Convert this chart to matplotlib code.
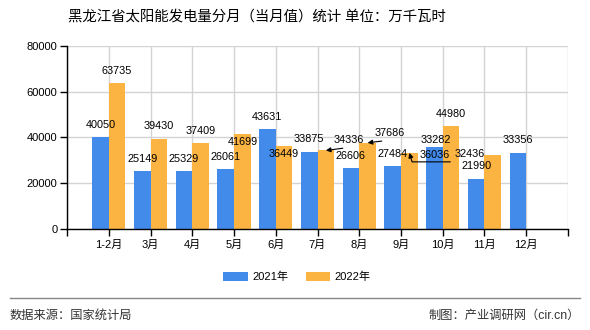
import numpy as np
import matplotlib
matplotlib.use('Agg')
import matplotlib.pyplot as plt

plt.rcParams['font.family'] = ['Liberation Sans', 'Noto Sans CJK SC']

# 分月数据（万千瓦时）
meses = ['1-2月', '3月', '4月', '5月', '6月', '7月', '8月', '9月', '10月', '11月', '12月']
v2021 = [40050, 25149, 25329, 26061, 43631, 33875, 26606, 27484, 36036, 21990, 33356]
v2022 = [63735, 39430, 37409, 41699, 36449, 34336, 37686, 33282, 44980, 32436, np.nan]

cor_2021 = '#428BEB'
cor_2022 = '#FBB341'

fig = plt.figure(figsize=(5.9, 3.3), dpi=100)
ax = fig.add_axes([0.1136, 0.3061, 0.8491, 0.5545])

x = np.arange(1, len(meses) + 1)
larg = 0.4
barras1 = ax.bar(x - larg / 2, v2021, larg, color=cor_2021, label='2021年', zorder=2)
barras2 = ax.bar(x + larg / 2, v2022, larg, color=cor_2022, label='2022年', zorder=2)

ax.set_xlim(0, len(meses) + 1)
ax.set_ylim(0, 80000)
ax.set_xticks(np.arange(0, len(meses) + 2))
ax.set_xticklabels([''] + meses + [''], fontsize=8)
ax.set_yticks(np.arange(0, 80001, 20000))
ax.tick_params(axis='y', labelsize=8, length=5, width=1, pad=2)
ax.tick_params(axis='x', length=5, width=1, pad=3)
ax.grid(True, color='#d3d3d3', linewidth=1, zorder=0)
for lado in ['top', 'right']:
    ax.spines[lado].set_visible(False)
for lado in ['left', 'bottom']:
    ax.spines[lado].set_color('black')
    ax.spines[lado].set_linewidth(1)

# deslocamento dos rótulos (pixels): padrão acima da barra
padrao = (0, 12.5)
dentro = (0, -8)
desl_2021 = [padrao] * 11
desl_2021[8] = dentro
desl_2022 = [padrao] * 11
desl_2022[3] = dentro
desl_2022[4] = dentro
desl_2022[5] = (23, 10)
desl_2022[6] = (22, 9.5)
desl_2022[7] = (26, 13)
desl_2022[9] = (-23, 1)

seta = dict(arrowstyle='-|>', color='black', lw=0.8, mutation_scale=7,
            shrinkA=0, shrinkB=0, relpos=(1, 0))

for barras, valores, desl in [(barras1, v2021, desl_2021), (barras2, v2022, desl_2022)]:
    for i, (bar, val) in enumerate(zip(barras, valores)):
        if np.isnan(val):
            continue
        cx = bar.get_x() + bar.get_width() / 2
        props = None
        if barras is barras2 and i in (5, 6):
            props = seta
        ax.annotate(f'{int(val)}', xy=(cx, val), xytext=desl[i],
                    textcoords='offset pixels', ha='center', va='center',
                    fontsize=7.8, color='black', arrowprops=props, zorder=4)

# linha guia do rótulo de setembro 2022
b9 = barras2[7]
ax.annotate('', xy=(b9.get_x() + b9.get_width() / 2, v2022[7]), xytext=(41, -9),
            textcoords='offset pixels',
            arrowprops=dict(arrowstyle='-|>', color='black', lw=0.8, mutation_scale=7,
                            shrinkA=0, shrinkB=0,
                            connectionstyle='angle,angleA=0,angleB=-73,rad=0'),
            zorder=4)

fig.text(68 / 590, 1 - 17 / 330, '黑龙江省太阳能发电量分月（当月值）统计 单位：万千瓦时',
         fontsize=10.4, ha='left', va='center', color='black')

fig.legend(handles=[barras1, barras2], loc='center', bbox_to_anchor=(297 / 590, 1 - 277 / 330),
           ncol=2, frameon=False, fontsize=8, handlelength=2.2, handleheight=0.9,
           columnspacing=1.6, handletextpad=0.4)

fig.add_artist(plt.Line2D([10 / 590, 580 / 590], [1 - 298 / 330] * 2, color='#888888', lw=1))
fig.text(10 / 590, 1 - 316 / 330, '数据来源：国家统计局', fontsize=8.8, ha='left', va='center', color='#333333')
fig.text(580 / 590, 1 - 316 / 330, '制图：产业调研网（cir.cn）', fontsize=8.8, ha='right', va='center', color='#333333')

fig.savefig('out.png', dpi=100)
